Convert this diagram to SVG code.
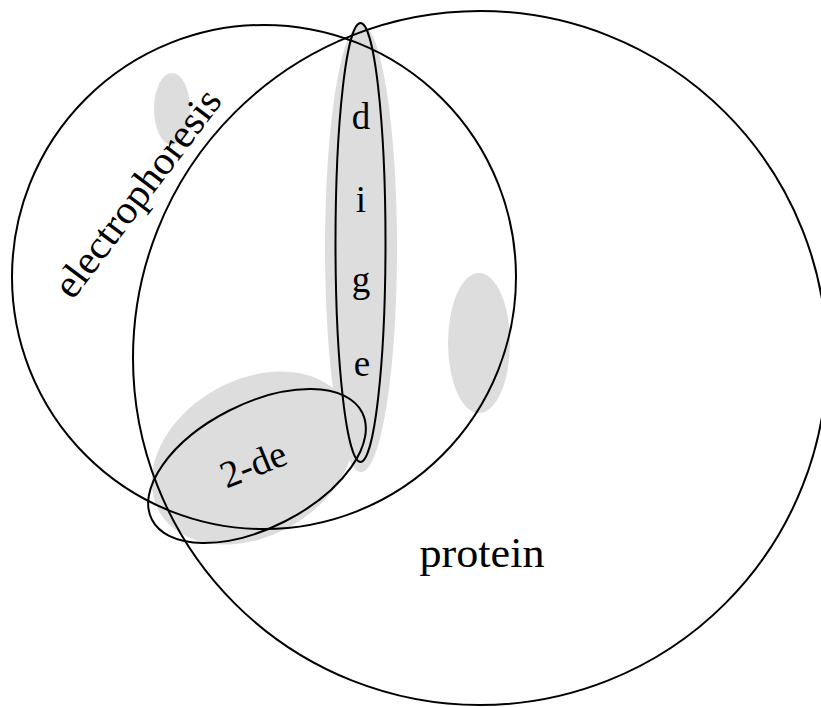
<svg xmlns="http://www.w3.org/2000/svg" width="821" height="707" viewBox="0 0 821 707">
<style>
.set{fill:none;stroke:#000;stroke-width:2}
.shade{fill:#dddddd;stroke:none}
.lbl{font-family:"Liberation Serif","DejaVu Serif",serif;fill:#000}
</style>
<rect width="821" height="707" fill="#fff"/>
<g id="shading">
<ellipse class="shade" cx="172" cy="109" rx="18" ry="36"/>
<ellipse class="shade" cx="479" cy="343" rx="31" ry="70"/>
<ellipse class="shade" cx="361" cy="248" rx="36" ry="224"/>
<ellipse class="shade" cx="253" cy="458" rx="108" ry="78" transform="rotate(-30 253 458)"/>
</g>
<g id="electrophoresis">
<circle class="set" cx="264" cy="277" r="252"/>
<text class="lbl" font-size="40" text-anchor="middle" textLength="250" lengthAdjust="spacingAndGlyphs" transform="translate(148 201) rotate(-53)">electrophoresis</text>
</g>
<g id="protein">
<circle class="set" cx="480" cy="358" r="347"/>
<text class="lbl" x="482" y="567" font-size="43" text-anchor="middle" textLength="125" lengthAdjust="spacingAndGlyphs">protein</text>
</g>
<g id="dige">
<ellipse class="set" cx="360.5" cy="242.5" rx="25" ry="219.5"/>
<g class="lbl" font-size="37" text-anchor="middle">
<text x="361" y="129">d</text>
<text x="361" y="212">i</text>
<text x="361" y="292">g</text>
<text x="362" y="376">e</text>
</g>
</g>
<g id="two-de">
<ellipse class="set" cx="257" cy="466" rx="118" ry="62" transform="rotate(-27 257 466)"/>
<text class="lbl" font-size="38" text-anchor="middle" textLength="68" lengthAdjust="spacingAndGlyphs" transform="translate(258 476) rotate(-22)">2-de</text>
</g>
<g id="connectors"/>
</svg>
